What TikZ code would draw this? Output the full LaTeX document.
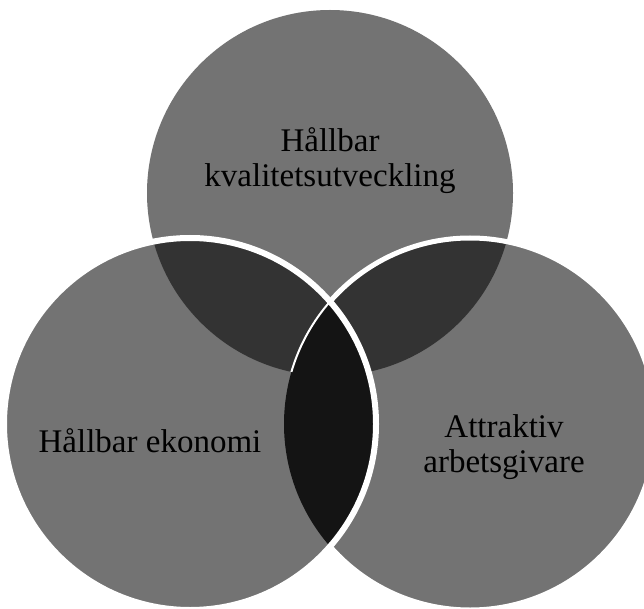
\documentclass[tikz,border=0pt]{standalone}
\usepackage{fontspec}
\setmainfont{Liberation Serif}
\begin{document}
\begin{tikzpicture}[x=1pt, y=-1pt,
    every node/.style={align=center, font=\fontsize{33}{35}\selectfont},
    single/.style={fill=black!55},
    pair/.style={fill=black!80},
    lens/.style={fill=black!92},
    rim/.style={draw=white, line width=5pt}]
    \useasboundingbox[fill=white] (0,0) rectangle (644,609);
    \coordinate (kval) at (330,193);
    \coordinate (ekon) at (190,424);
    \coordinate (attr) at (470,424);

    % top and right circles
    \fill[single] (kval) circle (183pt);
    \fill[single] (attr) circle (186pt);
    \begin{scope}
        \clip (kval) circle (183pt);
        \fill[pair] (attr) circle (186pt);
    \end{scope}
    \draw[rim] (attr) circle (186pt);

    % left circle on top of them
    \fill[single] (ekon) circle (186pt);
    \begin{scope}
        \clip (ekon) circle (186pt);
        \fill[pair] (kval) circle (183pt);
        \fill[lens] (attr) circle (186pt);
        \clip (kval) circle (183pt);
        \draw[rim, line width=2pt] (attr) circle (186pt);
    \end{scope}
    \draw[rim, line width=6pt] (ekon) circle (186pt);

    \node (kvaltxt) at (330,161) {Hållbar\\kvalitetsutveckling};
    \node (ekontxt) at (150,441) {Hållbar ekonomi};
    \node (attrtxt) at (504,447) {Attraktiv\\arbetsgivare};
\end{tikzpicture}
\end{document}
